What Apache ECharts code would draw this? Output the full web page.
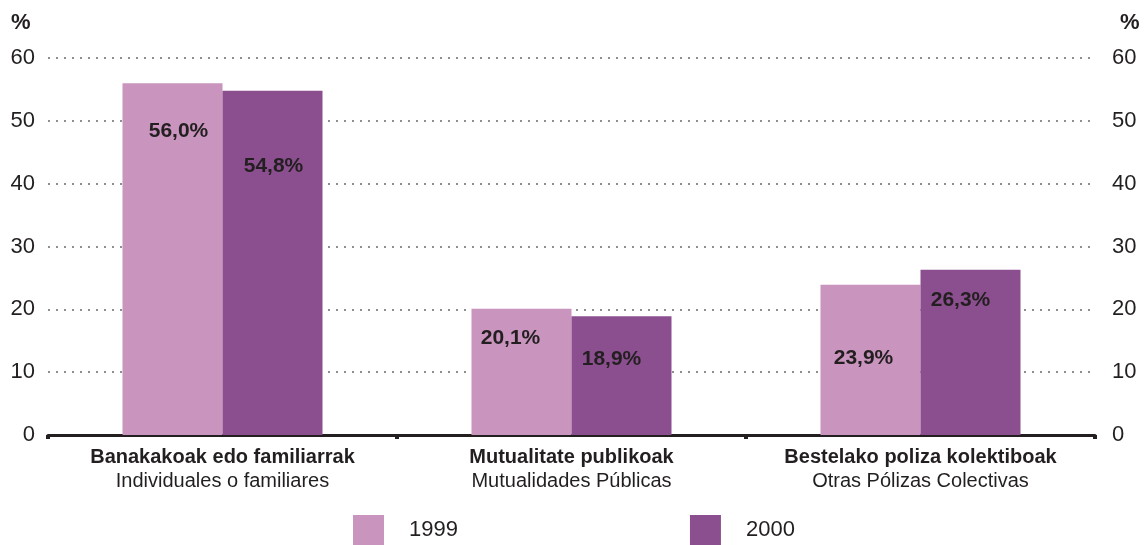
<!DOCTYPE html>
<html>
<head>
<meta charset="utf-8">
<script src="https://cdn.jsdelivr.net/npm/echarts@6/dist/echarts.min.js"></script>
<style>
  html, body { margin: 0; padding: 0; background: #fff; }
  #chart { width: 1145px; height: 545px; }
</style>
</head>
<body>
<div id="chart"></div>
<script>
// datos
const categoriesEu = ['Banakakoak edo familiarrak', 'Mutualitate publikoak', 'Bestelako poliza kolektiboak'];
const categoriesEs = ['Individuales o familiares', 'Mutualidades Públicas', 'Otras Pólizas Colectivas'];
const years = ['1999', '2000'];
const values1999 = [56.0, 20.1, 23.9];
const values2000 = [54.8, 18.9, 26.3];
const yTicks = [0, 10, 20, 30, 40, 50, 60];

// donde va cada etiqueta dentro de la barra
const labelDrop1999 = [38, 19, 63];
const labelDrop2000 = [65, 32, 20];
const labelShift1999 = [6, -11, -7];
const labelShift2000 = [1, -10, -10];

const txt = '#231f20';
const fontFam = 'Liberation Sans, Arial, sans-serif';
const colors = ['#c994bd', '#8b4f8f'];

const fmt = v => v.toFixed(1).replace('.', ',') + '%';

const barData = (vals, drops, shifts) => vals.map((v, i) => ({
  value: v,
  label: { distance: drops[i], offset: [shifts[i], 0] }
}));

const yAxisBase = (pos) => ({
  type: 'value',
  position: pos,
  min: yTicks[0],
  max: yTicks[yTicks.length - 1],
  interval: 10,
  axisLine: { show: false },
  axisTick: { show: false },
  axisLabel: {
    color: txt, fontSize: 22, fontFamily: fontFam,
    margin: pos === 'left' ? 13 : 17
  },
  splitLine: { show: false }
});

const chart = echarts.init(document.getElementById('chart'));

const option = {
  backgroundColor: '#fff',
  animation: false,
  textStyle: { fontFamily: fontFam },
  grid: { left: 48, right: 50, top: 58, bottom: 110, containLabel: false },
  legend: {
    data: years,
    left: 353,
    top: 515,
    padding: 0,
    itemWidth: 31,
    itemHeight: 30,
    itemGap: 232,
    icon: 'rect',
    textStyle: { color: txt, fontSize: 22, fontFamily: fontFam, padding: [0, 0, 0, 20] }
  },
  graphic: [
    { type: 'text', left: 11, top: 12, style: { text: '%', font: 'bold 22px ' + fontFam, fill: txt } },
    { type: 'text', left: 1120, top: 12, style: { text: '%', font: 'bold 22px ' + fontFam, fill: txt } }
  ],
  xAxis: {
    type: 'category',
    data: categoriesEu,
    axisLine: { lineStyle: { color: txt, width: 3 } },
    axisTick: { show: true, length: 4, lineStyle: { color: txt, width: 4 } },
    axisLabel: {
      margin: 10,
      interval: 0,
      formatter: (v, i) => '{b|' + v + '}\n{r|' + categoriesEs[i] + '}',
      rich: {
        b: { fontWeight: 'bold', fontSize: 20, color: txt, fontFamily: fontFam, lineHeight: 24 },
        r: { fontSize: 20, color: txt, fontFamily: fontFam, lineHeight: 24 }
      }
    }
  },
  yAxis: [
    Object.assign(yAxisBase('left'), {
      splitLine: { show: true, lineStyle: { color: '#6a6a6a', width: 1.5, type: [2, 6] } }
    }),
    yAxisBase('right')
  ],
  series: [
    {
      name: years[0],
      type: 'bar',
      barWidth: 100,
      barGap: '0%',
      itemStyle: { color: colors[0] },
      label: {
        show: true, position: 'insideTop', formatter: p => fmt(p.value),
        color: txt, fontWeight: 'bold', fontSize: 21, fontFamily: fontFam
      },
      data: barData(values1999, labelDrop1999, labelShift1999)
    },
    {
      name: years[1],
      type: 'bar',
      barWidth: 100,
      barGap: '0%',
      itemStyle: { color: colors[1] },
      label: {
        show: true, position: 'insideTop', formatter: p => fmt(p.value),
        color: txt, fontWeight: 'bold', fontSize: 21, fontFamily: fontFam
      },
      data: barData(values2000, labelDrop2000, labelShift2000)
    }
  ]
};

chart.setOption(option);
window.addEventListener('resize', function () {
  chart.resize();
});
</script>
</body>
</html>
